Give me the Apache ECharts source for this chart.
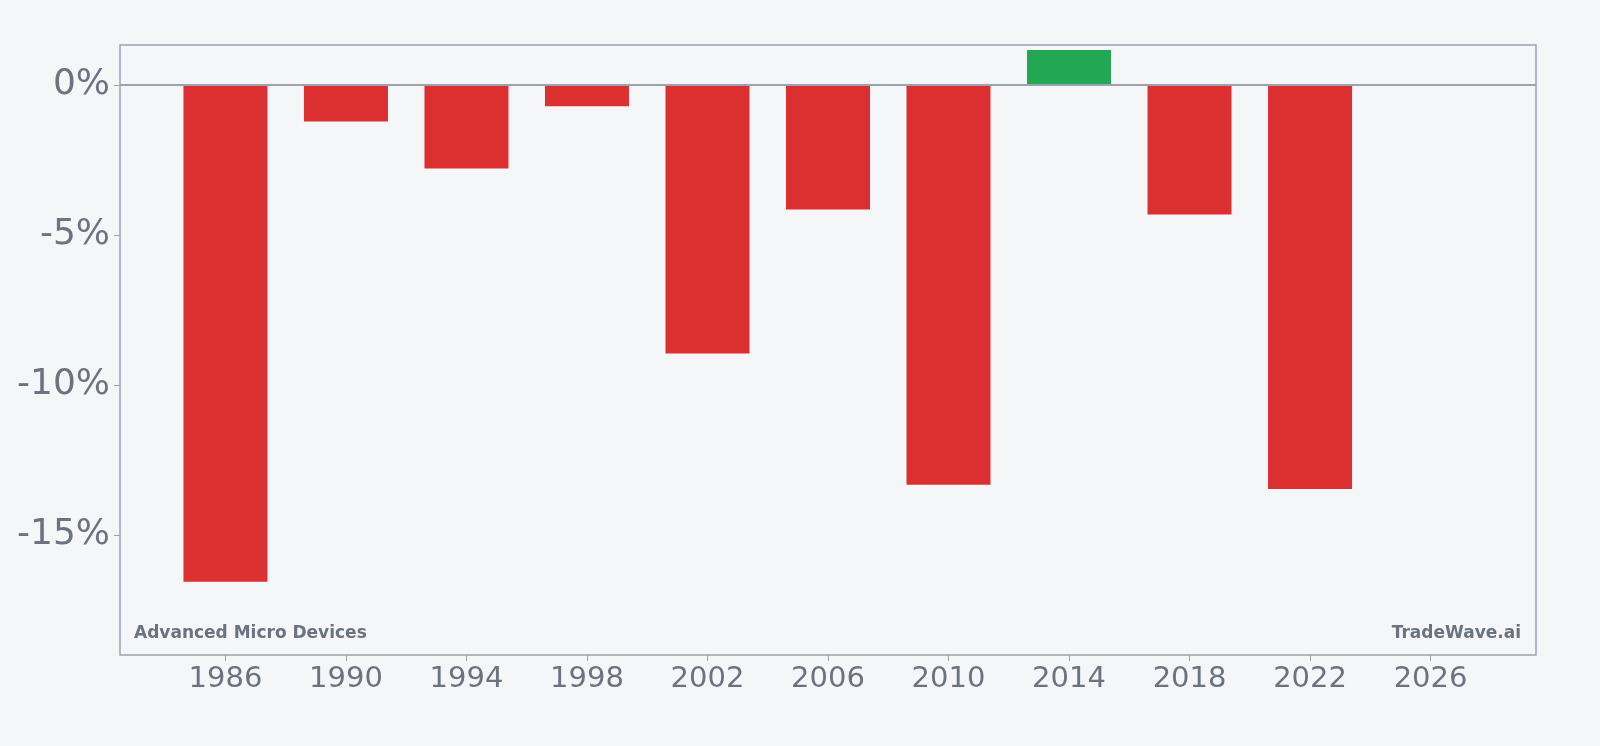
<!DOCTYPE html>
<html>
<head>
<meta charset="utf-8">
<script src="https://cdn.jsdelivr.net/npm/echarts@6/dist/echarts.min.js"></script>
<style>
  html, body { margin: 0; padding: 0; background: #f4f6f8; }
  #chart { width: 1600px; height: 746px; }
</style>
</head>
<body>
<div id="chart"></div>
<script>
// 数据
let years = [1986, 1990, 1994, 1998, 2002, 2006, 2010, 2014, 2018, 2022];
let values = [-16.56, -1.22, -2.79, -0.71, -8.95, -4.15, -13.33, 1.16, -4.32, -13.47];
let xTicks = [1986, 1990, 1994, 1998, 2002, 2006, 2010, 2014, 2018, 2022, 2026];
let yTicks = [0, -5, -10, -15];

let myChart = echarts.init(document.getElementById('chart'));
let textColor = '#6b7280';
let lineColor = '#9ca3af';

let option = {
    backgroundColor: '#f4f6f8',
    animation: false,
    grid: {
        left: 120, right: 64, top: 45, bottom: 91,
        show: true, borderColor: lineColor, borderWidth: 1.5, backgroundColor: 'transparent'
    },
    xAxis: {
        type: 'value',
        min: 1982.5,
        max: 2029.5,
        splitLine: { show: false },
        axisLine: { show: false, onZero: false },
        axisTick: { show: true, customValues: xTicks, length: 6, lineStyle: { color: lineColor } },
        axisLabel: {
            customValues: xTicks, color: textColor, fontSize: 29, margin: 10, fontFamily: 'DejaVu Sans',
            formatter: v => String(v)
        }
    },
    yAxis: {
        type: 'value',
        min: -19,
        max: 1.33,
        splitLine: { show: false },
        axisLine: { show: false },
        axisTick: { show: true, customValues: yTicks, length: 6, lineStyle: { color: lineColor } },
        axisLabel: {
            customValues: yTicks, color: textColor, fontSize: 36, margin: 10, fontFamily: 'DejaVu Sans',
            formatter: v => v + '%'
        }
    },
    graphic: [
        { type: 'text', left: 134, top: 625, style: { text: 'Advanced Micro Devices', fill: textColor, font: 'bold 17px DejaVu Sans' } },
        { type: 'text', right: 79, top: 625, style: { text: 'TradeWave.ai', fill: textColor, font: 'bold 17px DejaVu Sans' } }
    ],
    series: [{
        type: 'bar',
        barWidth: 84,
        data: years.map((y, i) => ({
            value: [y, values[i]],
            itemStyle: { color: values[i] >= 0 ? '#22a852' : '#dc3030' }
        })),
        markLine: {
            symbol: 'none',
            silent: true,
            label: { show: false },
            lineStyle: { color: lineColor, width: 2, type: 'solid' },
            data: [{ yAxis: 0 }]
        }
    }]
};
myChart.setOption(option);
</script>
</body>
</html>
